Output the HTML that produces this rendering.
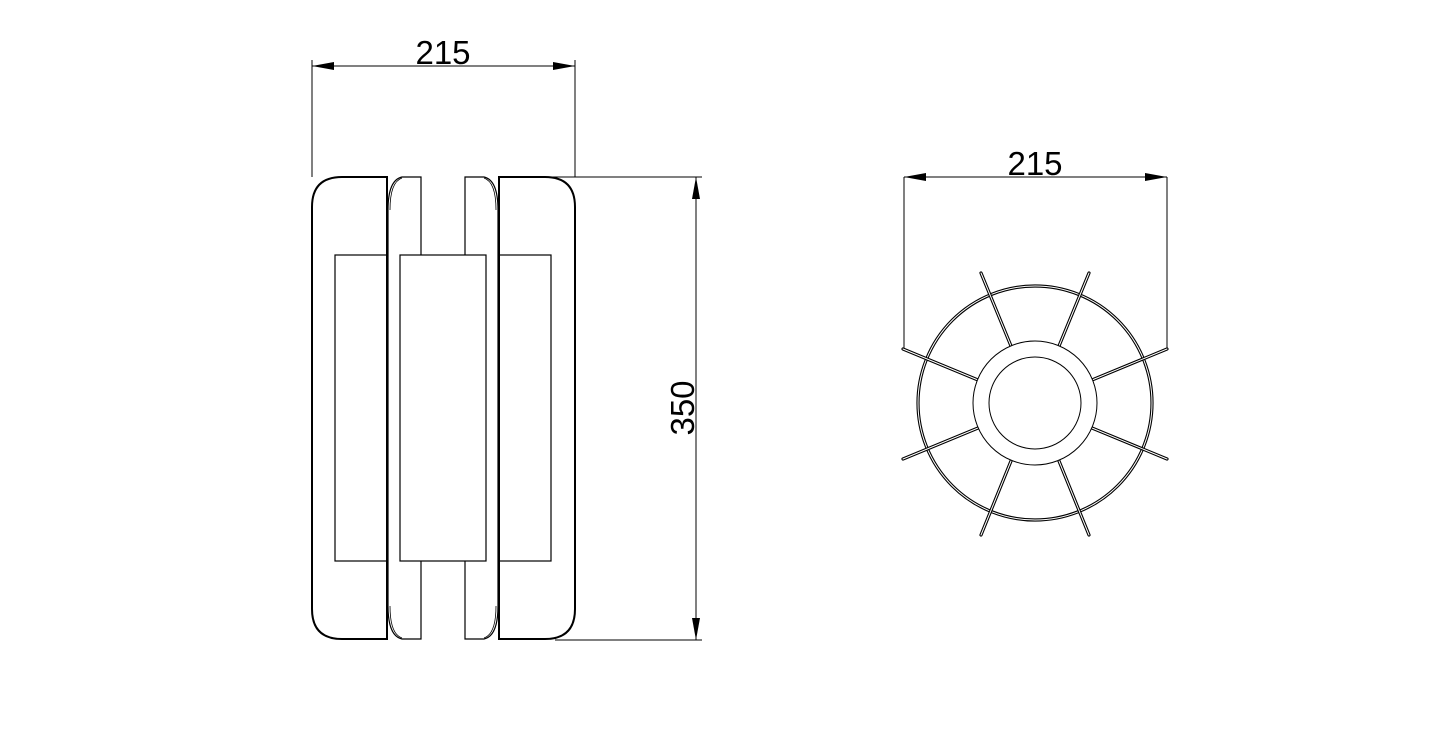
<!DOCTYPE html>
<html><head><style>html,body{margin:0;padding:0;background:#fff}svg{display:block}</style></head>
<body>
<svg width="1445" height="743" viewBox="0 0 1445 743" xmlns="http://www.w3.org/2000/svg">
<g fill="none" stroke="#000" stroke-width="1">
<line x1="312" y1="60" x2="312" y2="177"/>
<line x1="575" y1="60" x2="575" y2="177"/>
<line x1="312" y1="66" x2="575" y2="66"/>
<line x1="499" y1="177" x2="702" y2="177"/>
<line x1="555" y1="640" x2="702" y2="640"/>
<line x1="696" y1="177" x2="696" y2="640"/>
<line x1="904" y1="177" x2="1167" y2="177"/>
<line x1="904" y1="177" x2="904" y2="349"/>
<line x1="1167" y1="177" x2="1167" y2="349"/>
</g>
<g fill="#000">
<polygon points="312,66 334,62 334,70"/>
<polygon points="575,66 553,62 553,70"/>
<polygon points="696,177 692,199 700,199"/>
<polygon points="696,640 692,618 700,618"/>
<polygon points="904,177 926,173 926,181"/>
<polygon points="1167,177 1145,173 1145,181"/>
</g>
<g font-family="Liberation Sans, sans-serif" font-size="33" fill="#000">
<text x="443" y="64" text-anchor="middle">215</text>
<text x="1035" y="175" text-anchor="middle">215</text>
<text transform="translate(694,408) rotate(-90)" text-anchor="middle">350</text>
</g>
<g fill="none" stroke="#000">
<path d="M387,177 L342,177 Q312,177 312,207 L312,609 Q312,639 342,639 L387,639 Z" stroke-width="2"/>
<path d="M575,207 Q575,177 545,177 L499,177 L499,639 L545,639 Q575,639 575,609 Z" stroke-width="2"/>
<path d="M421,177 L402,177 Q388,180 388,210 L388,606 Q388,636 402,639 L421,639 Z" stroke-width="1.2"/>
<path d="M390,210 Q390,182 402,178" stroke-width="0.8"/>
<path d="M390,606 Q390,634 402,638" stroke-width="0.8"/>
<path d="M465,177 L484,177 Q498,180 498,210 L498,606 Q498,636 484,639 L465,639 Z" stroke-width="1.2"/>
<path d="M496,210 Q496,182 484,178" stroke-width="0.8"/>
<path d="M496,606 Q496,634 484,638" stroke-width="0.8"/>
<g stroke-width="1.2">
<rect x="335" y="255" width="52" height="306"/>
<rect x="400" y="255" width="86" height="306" fill="#fff"/>
<rect x="499" y="255" width="52" height="306"/>
</g>
</g>
<g fill="none" stroke="#000">
<circle cx="1035" cy="403" r="117" stroke-width="3.2"/>
<circle cx="1035" cy="403" r="117" stroke="#fff" stroke-width="1"/>
<g stroke-width="3.2" stroke-linecap="round">
<line x1="981" y1="273" x2="1011" y2="346"/>
<line x1="1089" y1="273" x2="1059" y2="346"/>
<line x1="903" y1="349" x2="978" y2="380"/>
<line x1="1167" y1="349" x2="1092" y2="380"/>
<line x1="903" y1="459" x2="978" y2="428"/>
<line x1="1167" y1="459" x2="1092" y2="428"/>
<line x1="981" y1="535" x2="1011" y2="461"/>
<line x1="1089" y1="535" x2="1059" y2="461"/>
</g>
<g stroke-width="1" stroke="#fff" stroke-linecap="round">
<line x1="981" y1="273" x2="1011" y2="346"/>
<line x1="1089" y1="273" x2="1059" y2="346"/>
<line x1="903" y1="349" x2="978" y2="380"/>
<line x1="1167" y1="349" x2="1092" y2="380"/>
<line x1="903" y1="459" x2="978" y2="428"/>
<line x1="1167" y1="459" x2="1092" y2="428"/>
<line x1="981" y1="535" x2="1011" y2="461"/>
<line x1="1089" y1="535" x2="1059" y2="461"/>
</g>
<circle cx="1035" cy="403" r="62" fill="#fff" stroke-width="1"/>
<circle cx="1035" cy="403" r="46" stroke-width="1"/>
</g>
</svg>
</body></html>
